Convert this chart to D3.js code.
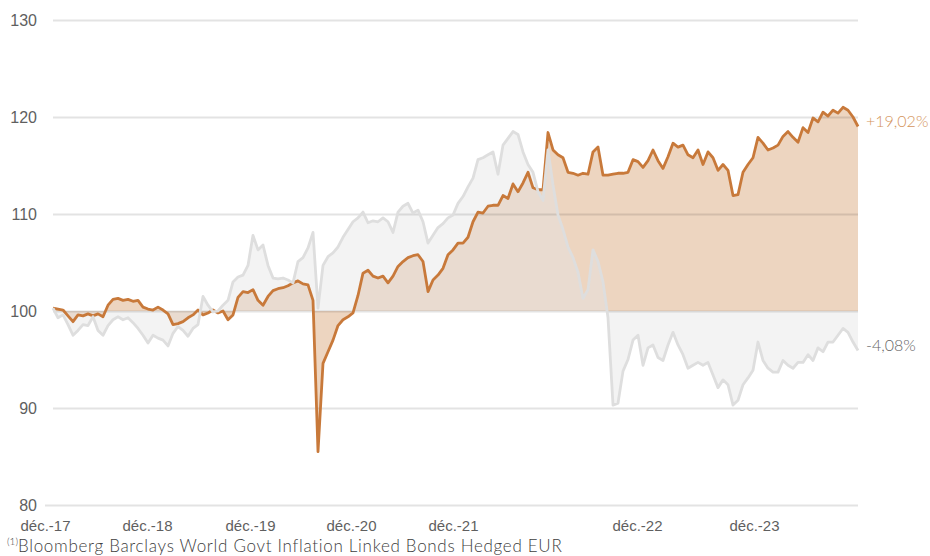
<!DOCTYPE html>
<html>
<head>
<meta charset="utf-8">
<script src="https://cdn.jsdelivr.net/npm/d3@7"></script>
<style>
  body { margin: 0; background: #fff; }
  svg { display: block; font-family: Lato, "Open Sans", sans-serif; font-weight: 300; }
  .tick text { fill: #5f5f5f; font-size: 16px; }
</style>
</head>
<body>
<svg width="930" height="556"></svg>
<script>
var svg = d3.select("svg");

// Fund (orange) and index (grey), base 100, one value every few trading days
var fundVals = [
  100.3,100.2,100.1,99.5,98.9,99.6,99.5,99.7,99.5,99.7,
  99.4,100.6,101.2,101.3,101.1,101.2,101.0,101.1,100.4,100.2,
  100.1,100.4,100.1,99.7,98.6,98.7,98.9,99.3,99.6,100.1,
  99.6,99.8,100.1,99.8,100.0,99.1,99.6,101.4,102.0,101.9,
  102.2,101.1,100.6,101.5,102.1,102.3,102.4,102.6,102.9,103.1,
  102.8,102.7,101.1,85.5,94.6,95.8,97.0,98.5,99.1,99.4,
  99.8,101.6,103.9,104.2,103.6,103.4,103.6,102.9,103.6,104.6,
  105.1,105.5,105.7,105.8,105.1,102.0,103.2,103.7,104.4,105.8,
  106.3,107.0,107.0,107.6,109.2,110.2,110.1,110.8,110.9,110.9,
  111.9,111.6,113.1,112.3,113.2,114.3,112.7,112.5,112.5,118.4,
  116.6,116.1,115.8,114.3,114.2,114.0,114.2,114.1,116.4,116.9,
  114.0,114.0,114.1,114.2,114.2,114.3,115.6,115.4,114.8,115.5,
  116.6,115.5,114.7,115.9,117.3,116.9,117.1,116.1,115.8,116.6,
  115.1,116.4,115.8,114.5,115.1,114.5,111.9,112.0,114.3,115.1,
  115.8,117.9,117.3,116.6,116.8,117.1,118.0,118.5,117.9,117.4,
  118.9,118.4,119.9,119.5,120.5,120.1,120.7,120.4,121.0,120.7,
  120.0,119.02
];

var indexVals = [
  100.3,99.3,99.6,98.6,97.5,98.0,98.6,98.5,99.4,98.0,
  97.5,98.5,99.1,99.4,99.1,99.3,98.8,98.2,97.5,96.7,
  97.5,97.2,97.0,96.4,97.7,98.4,98.0,97.4,98.2,98.6,
  101.5,100.6,99.9,100.0,100.6,101.1,103.0,103.5,103.7,104.7,
  107.8,106.3,106.8,104.7,103.4,103.3,103.4,103.2,102.9,105.1,
  105.5,106.5,108.1,100.3,104.7,105.6,106.0,106.6,107.6,108.4,
  109.2,109.6,110.2,109.1,109.3,109.2,109.6,109.2,108.1,110.2,
  110.8,111.1,110.1,110.4,109.2,107.0,107.8,108.6,109.0,109.6,
  109.9,111.1,111.8,112.8,113.7,115.6,115.8,116.1,116.4,114.1,
  117.1,117.8,118.5,118.2,116.4,115.1,114.3,112.3,111.4,116.6,
  113.0,109.9,108.4,106.6,105.5,104.0,101.3,102.2,106.3,105.1,
  103.0,99.3,90.3,90.5,93.8,95.0,97.0,97.5,94.4,96.2,
  96.5,95.2,94.9,96.5,97.8,96.5,95.5,94.1,94.4,94.7,
  94.4,94.7,93.4,92.1,92.9,92.4,90.3,90.8,92.4,93.1,
  93.9,96.8,94.9,94.1,93.7,93.7,94.9,94.4,94.1,94.7,
  94.7,95.5,94.9,96.2,95.8,96.8,96.8,97.5,98.2,97.8,
  96.8,95.92
];

var yTicks = [80, 90, 100, 110, 120, 130];
var xTickLabels = ["déc.-17", "déc.-18", "déc.-19", "déc.-20", "déc.-21", "déc.-22", "déc.-23"];
var xTickPos = [-1.6, 18.8, 39.4, 59.6, 80, 116.8, 140.2]; // position in data points
var endLabels = ["+19,02%", "-4,08%"];
var footnote = "Bloomberg Barclays World Govt Inflation Linked Bonds Hedged EUR";

// Scales
var x = d3.scaleLinear()
    .domain([0, fundVals.length - 1])
    .range([53, 858]);

var y = d3.scaleLinear()
    .domain([80, 130])
    .range([505, 20]);

var areaFrom100 = d3.area()
    .x(function(d, i) { return x(i); })
    .y0(y(100))
    .y1(function(d) { return y(d); });

var line = d3.line()
    .x(function(d, i) { return x(i); })
    .y(function(d) { return y(d); });

// Filled areas between each series and 100
svg.append("path")
    .datum(fundVals)
    .attr("d", areaFrom100)
    .style("fill", "#EDD5C0");

svg.append("path")
    .datum(indexVals)
    .attr("d", areaFrom100)
    .style("fill", "#E4E4E4")
    .style("fill-opacity", 0.44);

// Gridlines + y labels
var yAxis = svg.append("g")
    .attr("transform", "translate(53,0)")
    .call(d3.axisLeft(y).tickValues(yTicks).tickSize(-805).tickPadding(16));
yAxis.select(".domain").remove();
yAxis.selectAll(".tick line")
    .style("stroke", "#000")
    .style("stroke-opacity", 0.11)
    .style("stroke-width", 2)
    .attr("x1", function(d) { return d === 80 ? -8 : 0; });

// X labels
var xAxis = svg.append("g")
    .attr("transform", "translate(0,505)")
    .call(d3.axisBottom(x)
        .tickValues(xTickPos)
        .tickSize(0)
        .tickPadding(15)
        .tickFormat(function(d, i) { return xTickLabels[i]; }));
xAxis.select(".domain").remove();
xAxis.selectAll(".tick text").style("font-size", "15px");

// Lines
svg.append("path")
    .datum(fundVals)
    .attr("d", line)
    .style("fill", "none")
    .style("stroke", "#C8793A")
    .style("stroke-width", 2.8)
    .style("stroke-linejoin", "round");

svg.append("path")
    .datum(indexVals)
    .attr("d", line)
    .style("fill", "none")
    .style("stroke", "#DEDEDE")
    .style("stroke-width", 2.8)
    .style("stroke-linejoin", "round");

// Performance labels at the end of each line
var last = fundVals.length - 1;
svg.append("text")
    .attr("x", 866)
    .attr("y", y(fundVals[last]) - 5)
    .attr("dy", "0.35em")
    .style("font-size", "16px")
    .style("fill", "#D4945C")
    .text(endLabels[0]);

svg.append("text")
    .attr("x", 866)
    .attr("y", y(indexVals[last]) - 5)
    .attr("dy", "0.35em")
    .style("font-size", "16px")
    .style("fill", "#666")
    .text(endLabels[1]);

// Source
var note = svg.append("text")
    .attr("x", 7)
    .attr("y", 552)
    .style("font-size", "17px")
    .style("letter-spacing", "0.7px")
    .style("fill", "#404040");
note.append("tspan")
    .style("font-size", "10px")
    .style("letter-spacing", "0")
    .attr("dy", "-7")
    .text("(1)");
note.append("tspan")
    .attr("dy", "7")
    .text(footnote);
</script>
</body>
</html>
